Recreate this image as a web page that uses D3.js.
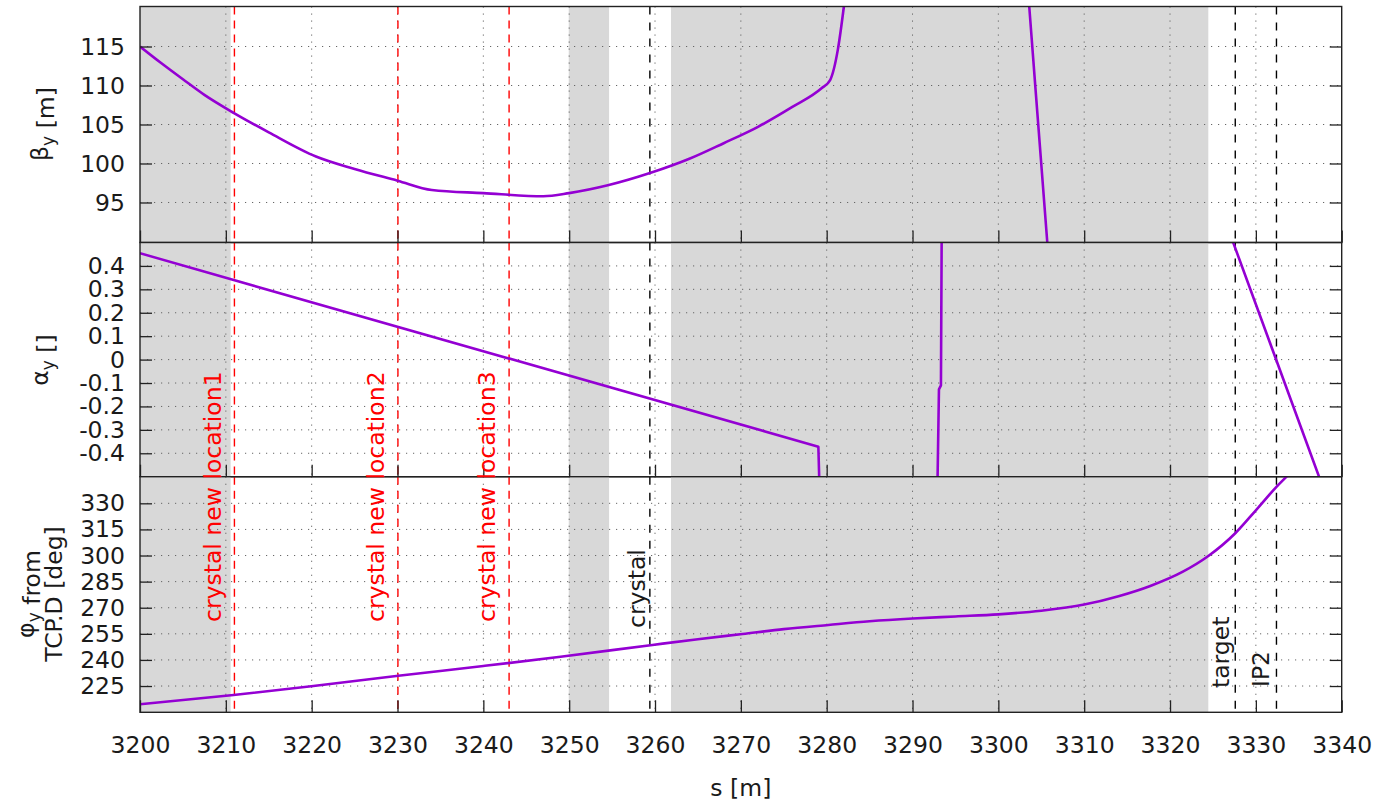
<!DOCTYPE html>
<html>
<head>
<meta charset="utf-8">
<script src="https://cdn.jsdelivr.net/npm/d3@7"></script>
<style>
  body { margin: 0; background: #fff; }
  text { font-family: "DejaVu Sans", Verdana, sans-serif; fill: #1a1a1a; }
</style>
</head>
<body>
<svg id="chart" width="1381" height="807"></svg>
<script>
// Vertical optics functions along the beam line, s in metres
const sBeta  = [3200, 3202.5, 3205, 3207.5, 3210.9, 3215, 3220.5, 3225, 3230, 3234, 3240, 3247, 3250, 3254.5, 3259.5, 3264, 3268, 3272, 3276, 3279.4, 3280.4, 3281.3, 3282.0, 3283, 3290, 3298, 3301.5, 3303.6, 3305.7, 3306.5];
const betaY  = [115.0, 112.85, 110.8, 108.8, 106.5, 104.0, 100.9, 99.3, 97.8, 96.6, 96.2, 95.8, 96.2, 97.2, 98.8, 100.6, 102.6, 104.7, 107.25, 109.65, 110.7, 114.6, 120.1, 130, 220, 210, 150, 120.1, 89.9, 79];

const sAlpha = [3200, 3279.03, 3279.2, 3286, 3292.9, 3293.08, 3293.31, 3293.4, 3293.6, 3310, 3324.46, 3340];
const alphaY = [0.454, -0.372, -0.6, -2.5, -0.55, -0.127, -0.11, 0.55, 0.9, 2.5, 0.79, -0.764];

const sPhase = [3200, 3210.9, 3220.2, 3230.1, 3240, 3249, 3259.7, 3265, 3270.2, 3275, 3280.2, 3285, 3290, 3295, 3300, 3305, 3310, 3314, 3317.7, 3321.5, 3324.46, 3327.6, 3330, 3332.4, 3333.6, 3335];
const phaseY = [214.5, 219.8, 225.0, 230.9, 236.5, 241.8, 248.6, 251.9, 254.9, 257.7, 260.1, 262.2, 263.8, 265.0, 266.2, 268.3, 271.8, 276.6, 282.5, 290.7, 299.7, 312.8, 326.0, 339.5, 345.5, 353.0];

// Shaded element regions [start, end]
const shadedStart = [3195, 3249.95, 3261.86];
const shadedEnd   = [3210.56, 3254.65, 3324.46];

// Marked positions
const markerS     = [3211.0, 3230.05, 3243.0, 3259.4, 3327.6, 3332.4];
const markerNames = ["crystal new location1", "crystal new location2", "crystal new location3", "crystal", "target", "IP2"];
const markerIsNew = [true, true, true, false, false, false];

// Tick values
const sTicks     = [3200, 3210, 3220, 3230, 3240, 3250, 3260, 3270, 3280, 3290, 3300, 3310, 3320, 3330, 3340];
const betaTicks  = [95, 100, 105, 110, 115];
const alphaTicks = [-0.4, -0.3, -0.2, -0.1, 0, 0.1, 0.2, 0.3, 0.4];
const phaseTicks = [225, 240, 255, 270, 285, 300, 315, 330];

// ---- layout ----
const L = 140, R = 1341.7;
const FONT = 23.5;
const PURPLE = "#9400d3";
const svg = d3.select("#chart");

const x = d3.scaleLinear().domain([3200, 3340]).range([L, R]);

const panels = [
  { top: 6.5,   bottom: 242.5, domain: [89.87, 120.13], ticks: betaTicks,  fmt: d => String(d),
    s: sBeta, v: betaY, curve: d3.curveMonotoneX },
  { top: 242.5, bottom: 476.7, domain: [-0.5, 0.5],      ticks: alphaTicks, fmt: d => (Math.abs(d) < 1e-9 ? "0" : d.toFixed(1)),
    s: sAlpha, v: alphaY, curve: d3.curveLinear },
  { top: 476.7, bottom: 712.3, domain: [209.9, 345.3],   ticks: phaseTicks, fmt: d => String(d),
    s: sPhase, v: phaseY, curve: d3.curveMonotoneX }
];

// label placement: baseline offset from the marker line, and where the text starts
const labelDx     = [-13, -14, -14, -5, -6, -7];
const labelStartY = [622, 622, 622, 628, 688, 687];

panels.forEach((p, i) => {
  const y = d3.scaleLinear().domain(p.domain).range([p.bottom, p.top]);
  const g = svg.append("g");
  const clipId = "clip" + i;
  svg.append("clipPath").attr("id", clipId)
    .append("rect").attr("x", L).attr("y", p.top).attr("width", R - L).attr("height", p.bottom - p.top);

  const body = g.append("g").attr("clip-path", `url(#${clipId})`);

  // shaded regions
  body.selectAll("rect.band").data(shadedStart.map((a, k) => [a, shadedEnd[k]])).join("rect")
    .attr("class", "band")
    .attr("x", d => x(d[0])).attr("width", d => x(d[1]) - x(d[0]))
    .attr("y", p.top).attr("height", p.bottom - p.top)
    .attr("fill", "#d8d8d8");

  // dotted grid
  body.selectAll("line.gx").data(sTicks.slice(1, -1)).join("line")
    .attr("x1", d => x(d)).attr("x2", d => x(d))
    .attr("y1", p.top).attr("y2", p.bottom)
    .attr("stroke", "#666").attr("stroke-width", 1).attr("stroke-dasharray", "1.2,5.8");
  body.selectAll("line.gy").data(p.ticks).join("line")
    .attr("x1", L).attr("x2", R)
    .attr("y1", d => y(d)).attr("y2", d => y(d))
    .attr("stroke", "#666").attr("stroke-width", 1).attr("stroke-dasharray", "1.2,5.8");

  // marker lines
  body.selectAll("line.mk").data(markerS).join("line")
    .attr("x1", d => x(d)).attr("x2", d => x(d))
    .attr("y1", p.top).attr("y2", p.bottom)
    .attr("stroke", (d, k) => markerIsNew[k] ? "#ff0000" : "#000")
    .attr("stroke-width", 1.4)
    .attr("stroke-dasharray", (d, k) => markerIsNew[k] ? "8,6" : "8,8");

  // curve
  const pts = p.s.map((s, k) => [s, p.v[k]]);
  body.append("path").datum(pts)
    .attr("d", d3.line().x(d => x(d[0])).y(d => y(d[1])).curve(p.curve))
    .attr("fill", "none").attr("stroke", PURPLE).attr("stroke-width", 2.6)
    .attr("stroke-linejoin", "round");

  // axes with inward ticks
  const left = d3.axisLeft(y).tickValues(p.ticks).tickFormat(p.fmt).tickSize(-12).tickSizeOuter(0).tickPadding(15);
  const ga = g.append("g").attr("transform", `translate(${L},0)`).call(left);
  const right = d3.axisRight(y).tickValues(p.ticks).tickFormat("").tickSize(-12).tickSizeOuter(0);
  const gr = g.append("g").attr("transform", `translate(${R},0)`).call(right);
  const bottom = d3.axisBottom(x).tickValues(sTicks).tickSize(-12).tickSizeOuter(0).tickPadding(24)
    .tickFormat(i === 2 ? d3.format("d") : "");
  const gb = g.append("g").attr("transform", `translate(0,${p.bottom})`).call(bottom);

  [ga, gr, gb].forEach(a => {
    a.select(".domain").remove();
    a.selectAll(".tick line").attr("stroke", "#222").attr("stroke-width", 1.3);
    a.selectAll(".tick text").attr("font-size", FONT).attr("fill", "#1a1a1a")
      .attr("font-family", '"DejaVu Sans", Verdana, sans-serif');
  });

  // frame
  g.append("rect").attr("x", L).attr("y", p.top).attr("width", R - L).attr("height", p.bottom - p.top)
    .attr("fill", "none").attr("stroke", "#222").attr("stroke-width", 1.4);
});

// marker labels
svg.append("g").selectAll("text").data(markerNames).join("text")
  .attr("transform", (d, k) => `translate(${x(markerS[k]) + labelDx[k]},${labelStartY[k]}) rotate(-90)`)
  .attr("font-size", FONT)
  .style("fill", (d, k) => markerIsNew[k] ? "#ff0000" : "#1a1a1a")
  .text(d => d);

// y axis titles
function title(xb, yc, parts) {
  const t = svg.append("text")
    .attr("transform", `translate(${xb},${yc}) rotate(-90)`)
    .attr("text-anchor", "middle").attr("font-size", FONT);
  parts.forEach(([txt, sub]) => {
    if (sub) {
      t.append("tspan").attr("dy", 6).attr("font-size", 17).text(txt);
      t.append("tspan").attr("dy", -6).text("");
    } else {
      t.append("tspan").text(txt);
    }
  });
  return t;
}
title(48, 124, [["β"], ["y", true], [" [m]"]]);
title(48, 360, [["α"], ["y", true], [" []"]]);
title(34, 594, [["φ"], ["y", true], [" from"]]);
title(62, 594, [["TCP.D [deg]"]]);

// x axis title
svg.append("text").attr("x", (L + R) / 2).attr("y", 796).attr("text-anchor", "middle")
  .attr("font-size", FONT).text("s [m]");
</script>
</body>
</html>
